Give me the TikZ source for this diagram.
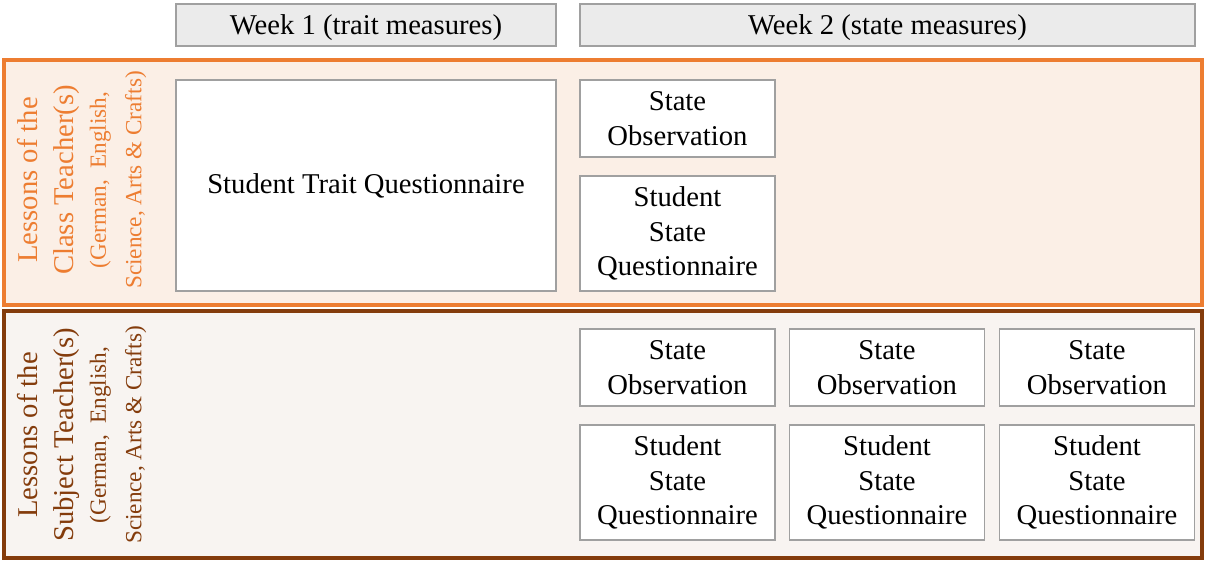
\documentclass[tikz,border=0pt]{standalone}
\usepackage{fontspec}
\setmainfont{Liberation Serif}
\definecolor{classorange}{HTML}{ED7D31}
\definecolor{classfill}{HTML}{FBEFE6}
\definecolor{subjbrown}{HTML}{843C0C}
\definecolor{subjfill}{HTML}{F8F4F1}
\definecolor{headfill}{HTML}{EBEBEB}
\definecolor{boxline}{HTML}{A0A0A0}
\newcommand{\biglab}{\fontsize{21.5}{26.5}\selectfont}
\newcommand{\smalllab}{\fontsize{17.4}{22.5}\selectfont}
\begin{document}
\begin{tikzpicture}[x=0.75pt,y=-0.75pt,
  panel/.style={draw, line width=3pt, inner sep=0pt, outer sep=0pt},
  header/.style={draw=boxline, fill=headfill, line width=1pt, inner sep=0pt,
    minimum height=31.5pt, text height=18.5pt, text depth=4.7pt,
    font=\fontsize{21.5}{26}\selectfont},
  measure/.style={draw=boxline, fill=white, line width=1pt, inner sep=0pt,
    align=center, minimum width=146.25pt, font=\fontsize{21.5}{26}\selectfont},
  obs/.style={measure, minimum height=57.75pt},
  ssq/.style={measure, minimum height=86.25pt},
  sidelabel/.style={rotate=90, align=center, inner sep=0pt, font=\biglab}
]
\useasboundingbox (0,0) rectangle (1210,561);

% column headers
\node[header, minimum width=285pt] (wk1) at (366,25) {Week 1 (trait measures)};
\node[header, minimum width=461.25pt] (wk2) at (887.5,25) {Week 2 (state measures)};

% lesson panels
\node[panel, draw=classorange, fill=classfill, minimum width=898.5pt, minimum height=184.1pt] (classpanel) at (603,182.25) {};
\node[panel, draw=subjbrown, fill=subjfill, minimum width=898.5pt, minimum height=184.9pt] (subjpanel) at (603,434.75) {};

% panel labels
\node[sidelabel, text=classorange] (classlabel) at (82,180) {Lessons of the\\Class Teacher(s)\\[-2pt]\smalllab (German,\ \ English,\\\smalllab Science, Arts \& Crafts)};
\node[sidelabel, text=subjbrown] (subjlabel) at (82,435) {Lessons of the\\Subject Teacher(s)\\[-2pt]\smalllab (German,\ \ English,\\\smalllab Science, Arts \& Crafts)};

% week 1
\node[measure, minimum width=285pt, minimum height=158.25pt] (trait) at (366,185.5) {Student Trait Questionnaire};

% week 2, class teacher lessons
\node[obs] (obsA) at (677.5,118.5) {State\\Observation};
\node[ssq] (ssqA) at (677.5,233.5) {Student\\State\\Questionnaire};

% week 2, subject teacher lessons
\node[obs] (obsB1) at (677.5,367.5) {State\\Observation};
\node[obs] (obsB2) at (887,367.5) {State\\Observation};
\node[obs] (obsB3) at (1097,367.5) {State\\Observation};
\node[ssq] (ssqB1) at (677.5,482.5) {Student\\State\\Questionnaire};
\node[ssq] (ssqB2) at (887,482.5) {Student\\State\\Questionnaire};
\node[ssq] (ssqB3) at (1097,482.5) {Student\\State\\Questionnaire};
\end{tikzpicture}
\end{document}
